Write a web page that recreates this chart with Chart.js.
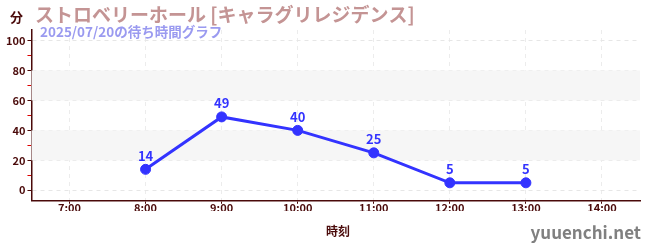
<!DOCTYPE html>
<html>
<head>
<meta charset="utf-8">
<script src="https://cdn.jsdelivr.net/npm/chart.js@4.4.1/dist/chart.umd.min.js"></script>
<style>
  html, body { margin: 0; padding: 0; background: #fff; }
  #wrap { position: relative; width: 650px; height: 250px; }
</style>
</head>
<body>
<div id="wrap"><canvas id="myChart" width="650" height="250"></canvas></div>
<script>
var hours = ['7:00', '8:00', '9:00', '10:00', '11:00', '12:00', '13:00', '14:00'];
var waits = [null, 14, 49, 40, 25, 5, 5, null];
var yTicks = [0, 10, 20, 30, 40, 50, 60, 70, 80, 90, 100];
var bands = [[20, 40], [60, 80]];

var titleText = 'ストロベリーホール [キャラグリレジデンス]';
var subText = '2025/07/20の待ち時間グラフ';
var FONT = '"Noto Sans CJK JP", "Noto Sans", sans-serif';
var dark = '#4a0a0a';
var blue = '#3333ff';

// background bands behind the plot
var bandPlugin = {
  id: 'bands',
  beforeDatasetsDraw: function (chart) {
    var c = chart.ctx, a = chart.chartArea, y = chart.scales.y;
    c.save();
    c.fillStyle = '#f6f6f6';
    bands.forEach(function (b) {
      var t = y.getPixelForValue(b[1]), btm = y.getPixelForValue(b[0]);
      c.fillRect(a.left, t, a.right - a.left, btm - t);
    });
    c.restore();
  }
};

// value labels and texts around the chart
var textPlugin = {
  id: 'texts',
  afterDraw: function (chart) {
    var c = chart.ctx;
    c.save();
    var meta = chart.getDatasetMeta(0);
    c.fillStyle = blue;
    c.font = 'bold 13px ' + FONT;
    c.textAlign = 'center';
    c.textBaseline = 'bottom';
    meta.data.forEach(function (pt, i) {
      if (waits[i] == null) return;
      c.fillText(String(waits[i]), pt.x, pt.y - 7);
    });

    c.textAlign = 'left';
    c.textBaseline = 'middle';
    c.fillStyle = dark;
    c.font = 'bold 13px ' + FONT;
    c.fillText('分', 10, 17);

    c.fillStyle = '#c49494';
    c.font = 'bold 19px ' + FONT;
    c.fillText(titleText, 35, 15);

    c.fillStyle = '#9a9af0';
    c.font = 'bold 13.5px ' + FONT;
    c.fillText(subText, 40, 32);

    c.fillStyle = dark;
    c.textAlign = 'center';
    c.font = 'bold 12px ' + FONT;
    c.fillText('時刻', 338, 231);

    c.fillStyle = '#808080';
    c.textAlign = 'right';
    c.font = 'bold 17px ' + FONT;
    c.fillText('yuuenchi.net', 641, 233);
    c.restore();
  }
};

var ctx = document.getElementById('myChart').getContext('2d');
var myChart = new Chart(ctx, {
  type: 'line',
  data: {
    labels: hours,
    datasets: [{
      data: waits,
      borderColor: blue,
      backgroundColor: blue,
      borderWidth: 3,
      pointRadius: 5,
      pointBorderWidth: 1,
      pointHoverRadius: 5,
      tension: 0
    }]
  },
  options: {
    responsive: false,
    animation: false,
    layout: { padding: { left: 4, right: 10, top: 30, bottom: 39 } },
    plugins: { legend: { display: false }, tooltip: { enabled: false } },
    scales: {
      x: {
        offset: true,
        grid: {
          color: '#ececec',
          tickColor: dark,
          tickLength: 3,
          offset: false
        },
        border: { color: dark, width: 1.5, dash: [4, 4] },
        ticks: { color: dark, font: { family: FONT, size: 11, weight: 'bold' }, padding: -3 }
      },
      y: {
        min: -7,
        max: 107,
        afterBuildTicks: function (scale) {
          scale.ticks = yTicks.map(function (v) { return { value: v }; });
        },
        grid: {
          color: function (c) { return c.tick && c.tick.value % 20 === 0 ? '#e6e6e6' : 'transparent'; },
          tickColor: function (c) { return c.tick && c.tick.value % 20 === 0 ? dark : '#dd0000'; },
          tickLength: 4
        },
        border: { color: dark, width: 1.5, dash: [4, 4] },
        ticks: {
          color: dark,
          font: { family: FONT, size: 11, weight: 'bold' },
          padding: 2,
          autoSkip: false,
          callback: function (v) { return v % 20 === 0 ? v : ''; }
        }
      }
    }
  },
  plugins: [bandPlugin, textPlugin]
});
</script>
</body>
</html>
